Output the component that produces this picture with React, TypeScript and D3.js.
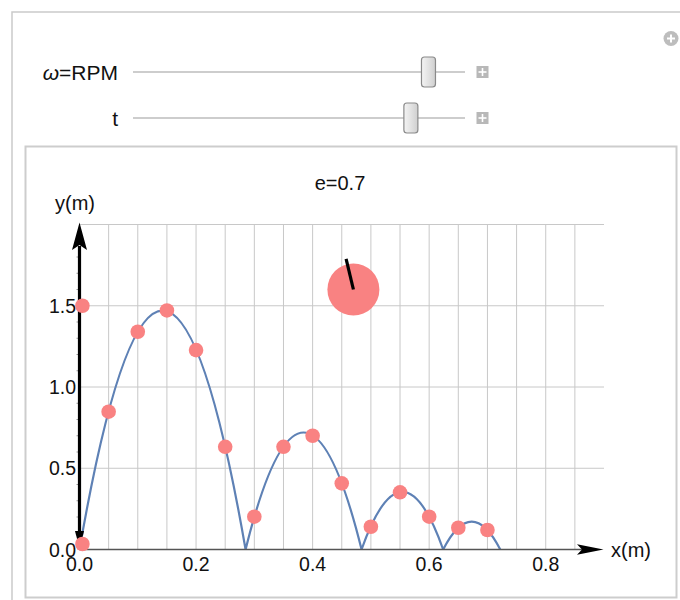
import React from "react";
import * as d3 from "d3";

// Bounce arcs of the ball trajectory: launch x, landing x and apex height (m)
const arcStart = [0, 0.285, 0.484, 0.624];
const arcEnd = [0.285, 0.484, 0.624, 0.722];
const arcPeak = [1.47, 0.72, 0.355, 0.172];

// Sampled positions (m)
const sampleX = [0.005, 0.005, 0.05, 0.1, 0.15, 0.2, 0.25, 0.3, 0.35, 0.4, 0.45, 0.5, 0.55, 0.6, 0.65, 0.7];
const sampleY = [1.5, 0.034, 0.848, 1.34, 1.471, 1.227, 0.632, 0.202, 0.632, 0.7, 0.407, 0.14, 0.352, 0.202, 0.134, 0.12];

// Spinning ball: centre (m) and marker rotation (deg, counter-clockwise from vertical)
const ballX = 0.47;
const ballY = 1.6;
const ballRotation = 13.4;

const xTicks = [0, 0.2, 0.4, 0.6, 0.8];
const yTicks = [0, 0.5, 1.0, 1.5];
const yGrid = [0.5, 1.0, 1.5, 2.0];

// Control panel
const sliderLabels = ["ω=RPM", "t"];
const sliderValues = [0.89, 0.837];
const title = "e=0.7";

const FONT = "'Liberation Sans', Arial, Helvetica, sans-serif";
const PINK = "#F98282";
const BLUE = "#5E81B5";

export default function App() {
  const x = d3.scaleLinear().domain([0, 0.9]).range([79.5, 604]);
  const y = d3.scaleLinear().domain([0, 2]).range([549.5, 224.5]);

  const xGrid = d3.range(1, 18).map((i) => +(i * 0.05).toFixed(2));
  const yMinor = d3.range(1, 20).map((i) => +(i * 0.1).toFixed(2)).filter((v) => Math.abs(v * 2 - Math.round(v * 2)) > 1e-6);

  const curve = d3.path();
  arcStart.forEach((s, i) => {
    const e = arcEnd[i];
    const mid = (s + e) / 2;
    curve.moveTo(x(s), y(0));
    curve.quadraticCurveTo(x(mid), y(2 * arcPeak[i]), x(e), y(0));
  });

  const bx = x(ballX);
  const by = y(ballY);
  const rad = (ballRotation * Math.PI) / 180;
  const stickLen = 31.5;

  const trackX0 = 133;
  const trackX1 = 465;
  const sliderY = [72, 118];

  const x0 = x(0);
  const y0 = y(0);

  return (
    <svg
      width={680}
      height={600}
      style={{ position: "absolute", left: 0, top: 0, background: "#fff" }}
      fontFamily={FONT}
    >
      <defs>
        <linearGradient id="thumb" x1="0" y1="0" x2="1" y2="0">
          <stop offset="0" stopColor="#f4f4f4" />
          <stop offset="0.5" stopColor="#e2e2e2" />
          <stop offset="1" stopColor="#cfcfcf" />
        </linearGradient>
      </defs>

      {/* outer manipulate panel */}
      <rect x={12} y={12} width={700} height={620} fill="#fff" stroke="#cacaca" strokeWidth={1.5} />

      {/* top-right options button */}
      <circle cx={671} cy={38.5} r={7.5} fill="#bdbdbd" />
      <rect x={667} y={37.5} width={8} height={2} fill="#fff" />
      <rect x={670} y={34.5} width={2} height={8} fill="#fff" />

      {/* sliders */}
      {sliderLabels.map((lab, i) => {
        const cy = sliderY[i];
        const tx = trackX0 + sliderValues[i] * (trackX1 - trackX0);
        return (
          <g key={lab}>
            <text x={118} y={cy + 7.5} textAnchor="end" fontSize={21} fill="#111">
              {lab.startsWith("ω") ? (
                <>
                  <tspan fontStyle="italic">ω</tspan>
                  <tspan>{lab.slice(1)}</tspan>
                </>
              ) : (
                lab
              )}
            </text>
            <line x1={trackX0} x2={trackX1} y1={cy} y2={cy} stroke="#bdbdbd" strokeWidth={1.5} />
            <rect x={tx - 7} y={cy - 15} width={14} height={30} rx={3} fill="url(#thumb)" stroke="#8a8a8a" strokeWidth={1.2} />
            <rect x={476.5} y={cy - 6} width={12} height={12} fill="#b8b8b8" />
            <rect x={478.5} y={cy - 0.8} width={8} height={1.6} fill="#fff" />
            <rect x={481.7} y={cy - 4} width={1.6} height={8} fill="#fff" />
          </g>
        );
      })}

      {/* plot frame */}
      <rect x={25.5} y={146.5} width={651} height={451} fill="#fff" stroke="#cdcdcd" strokeWidth={2} />

      {/* title */}
      <text x={340} y={190} textAnchor="middle" fontSize={20} fill="#111">
        {title}
      </text>

      {/* grid */}
      <g stroke="#c8c8c8" strokeWidth={1}>
        {xGrid.map((v) => (
          <line key={"gx" + v} x1={x(v)} x2={x(v)} y1={y(0)} y2={y(2)} />
        ))}
        {yGrid.map((v) => (
          <line key={"gy" + v} x1={x(0)} x2={x(0.9)} y1={y(v)} y2={y(v)} />
        ))}
      </g>

      {/* trajectory */}
      <path d={curve.toString()} fill="none" stroke={BLUE} strokeWidth={2.2} />

      {/* x axis */}
      <line x1={x0} x2={582} y1={y0} y2={y0} stroke="#555" strokeWidth={1.6} />
      <path
        d={`M${x(0.9) - 0.5},${y0} L${x(0.9) - 27},${y0 - 5.2} L${x(0.9) - 22},${y0} L${x(0.9) - 27},${y0 + 5.2} Z`}
        fill="#000"
      />
      {xTicks.map((v) => (
        <text key={"xt" + v} x={x(v)} y={571} textAnchor="middle" fontSize={19.5} fill="#111">
          {d3.format(".1f")(v)}
        </text>
      ))}
      <text x={611} y={557} fontSize={20} fill="#111">
        x(m)
      </text>

      {/* y axis */}
      <g stroke="#9a9a9a" strokeWidth={1}>
        {yMinor.map((v) => (
          <line key={"ym" + v} x1={x0 - 3} x2={x0} y1={y(v)} y2={y(v)} />
        ))}
      </g>
      <line x1={x0} x2={x0} y1={y0} y2={246} stroke="#000" strokeWidth={3.2} />
      <path d={`M${x0},222.5 L${x0 - 7.5},250 L${x0},245 L${x0 + 7.5},250 Z`} fill="#000" />
      <path d={`M${x0},${y0 - 1} L${x0 - 4.5},531 L${x0 + 4.5},531 Z`} fill="#000" />
      {yTicks.map((v) => (
        <text key={"yt" + v} x={76} y={y(v) + 7} textAnchor="end" fontSize={19.5} fill="#111">
          {d3.format(".1f")(v)}
        </text>
      ))}
      <text x={55} y={210} fontSize={20} fill="#111">
        y(m)
      </text>

      {/* sampled points */}
      {sampleX.map((v, i) => (
        <circle key={"p" + i} cx={x(v)} cy={y(sampleY[i])} r={7.3} fill={PINK} />
      ))}

      {/* spinning ball */}
      <circle cx={bx} cy={by} r={26} fill={PINK} />
      <line
        x1={bx}
        y1={by}
        x2={bx - stickLen * Math.sin(rad)}
        y2={by - stickLen * Math.cos(rad)}
        stroke="#000"
        strokeWidth={3.2}
      />
    </svg>
  );
}
